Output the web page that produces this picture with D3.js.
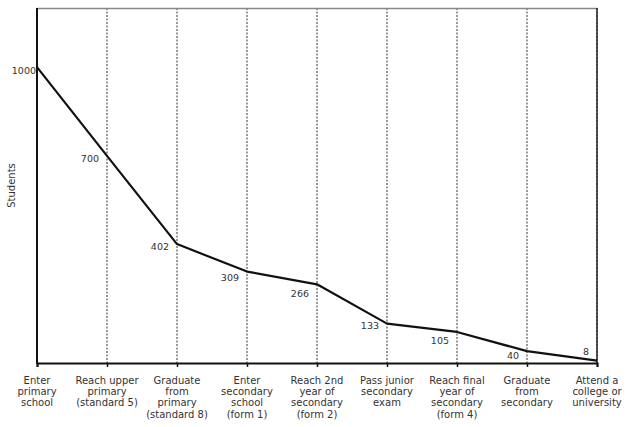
<!DOCTYPE html>
<html><head><meta charset="utf-8">
<script src="https://cdn.jsdelivr.net/npm/d3@7"></script>
<style>body{margin:0;background:#fff}svg{display:block}</style>
</head><body>
<svg id="chart" width="629" height="427"></svg>
<script>
const categories = [
  ["Enter","primary","school"],
  ["Reach upper","primary","(standard 5)"],
  ["Graduate","from","primary","(standard 8)"],
  ["Enter","secondary","school","(form 1)"],
  ["Reach 2nd","year of","secondary","(form 2)"],
  ["Pass junior","secondary","exam"],
  ["Reach final","year of","secondary","(form 4)"],
  ["Graduate","from","secondary"],
  ["Attend a","college or","university"]
];
const students = [1000, 700, 402, 309, 266, 133, 105, 40, 8];
const yAxisTitle = "Students";

// label placement offsets (styling only)
const labelDy = [3, 3, 2, 6, 9, 2, 9, 4, -9];

const svg = d3.select("#chart");
const font = "DejaVu Sans, Verdana, sans-serif";
const m = {left: 37, right: 597, top: 8, bottom: 363};

const x = d3.scalePoint().domain(d3.range(categories.length)).range([m.left, m.right]);
const y = d3.scaleLinear().domain([0, 1200]).range([m.bottom, m.top]);

// gridlines
svg.append("g").selectAll("line").data(d3.range(1, categories.length)).join("line")
  .attr("x1", d => x(d)).attr("x2", d => x(d))
  .attr("y1", m.top).attr("y2", m.bottom)
  .attr("stroke", "#333").attr("stroke-width", 1).attr("stroke-dasharray", "2,1.5");

// top border
svg.append("line").attr("x1", m.left).attr("x2", m.right).attr("y1", m.top + 0.5).attr("y2", m.top + 0.5)
  .attr("stroke", "#888").attr("stroke-width", 1.5);
// right border
svg.append("line").attr("x1", m.right).attr("x2", m.right).attr("y1", m.top).attr("y2", m.bottom)
  .attr("stroke", "#222").attr("stroke-width", 1.5);

// bottom axis
const xAxis = svg.append("g").attr("transform", `translate(0,${m.bottom})`)
  .call(d3.axisBottom(x).tickSize(4).tickFormat(""));
xAxis.select(".domain").attr("stroke", "#111").attr("stroke-width", 2);
xAxis.selectAll(".tick line").attr("stroke", "#111").attr("stroke-width", 1.5);

// left axis
svg.append("line").attr("x1", m.left).attr("x2", m.left).attr("y1", m.top).attr("y2", m.bottom + 1)
  .attr("stroke", "#111").attr("stroke-width", 2);

// category labels
const lab = svg.append("g").attr("font-family", font).attr("font-size", 10).attr("fill", "#333")
  .attr("text-anchor", "middle");
categories.forEach((lines, i) => {
  const t = lab.append("text").attr("x", x(i)).attr("y", 383.5);
  lines.forEach((s, j) => t.append("tspan").attr("x", x(i)).attr("dy", j === 0 ? 0 : 11.4).text(s));
});

// y title
svg.append("text").attr("transform", `translate(15,${(m.top + m.bottom) / 2}) rotate(-90)`)
  .attr("text-anchor", "middle").attr("font-family", font).attr("font-size", 10).attr("fill", "#333")
  .text(yAxisTitle);

// line
svg.append("path").datum(students)
  .attr("d", d3.line().x((d, i) => x(i)).y(d => y(d)))
  .attr("fill", "none").attr("stroke", "#111").attr("stroke-width", 2.2).attr("stroke-linejoin", "round");

// value labels
svg.append("g").selectAll("text").data(students).join("text")
  .attr("x", (d, i) => x(i) - (i === 0 ? 1 : 8))
  .attr("y", (d, i) => y(d) + labelDy[i] + 3.5)
  .attr("text-anchor", "end").attr("font-family", font).attr("font-size", 9.5).attr("fill", "#333")
  .text(d => d);
</script>
</body></html>
